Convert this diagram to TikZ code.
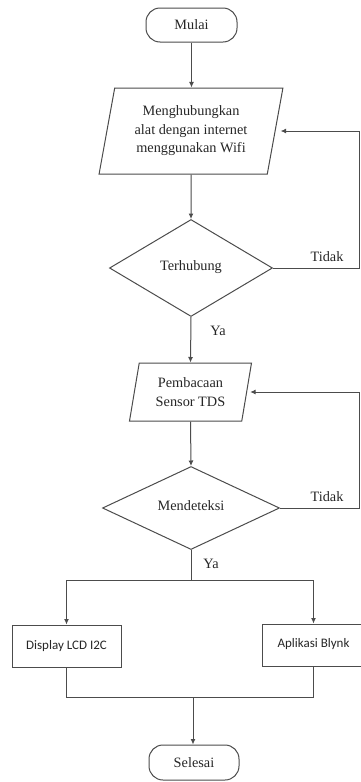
\documentclass[tikz,border=0pt]{standalone}
\usepackage{fontspec}
\setmainfont{Liberation Serif}
\newfontfamily\calib{Carlito}
\usetikzlibrary{shapes.geometric,arrows.meta}
\begin{document}
\begin{tikzpicture}[x=1pt,y=-1pt,
  line/.style={draw=black!70, line width=1pt},
  arr/.style={line, -{Latex[length=5.5pt,width=5pt]}},
  every node/.style={font=\fontsize{14.3}{18.5}\selectfont, text=black!85},
  term/.style={draw=black!70, line width=1pt, rounded corners=14pt, minimum width=91pt, minimum height=34pt, inner sep=0pt},
  io/.style={trapezium, trapezium left angle=77, trapezium right angle=103, trapezium stretches=true, draw=black!70, line width=1pt, align=center, inner sep=0pt},
  dec/.style={diamond, draw=black!70, line width=1pt, inner sep=0pt},
  proc/.style={rectangle, draw=black!70, line width=1pt, font=\calib\fontsize{13}{15}\selectfont, inner sep=0pt},
  lbl/.style={inner sep=0pt}]
\useasboundingbox (0,0) rectangle (360,782);
\fill[white] (0,0) rectangle (360,782);

\node[term] (start) at (191.5,25) {Mulai};
\node[io, minimum width=184pt, minimum height=86pt] (conn) at (191,131) {Menghubungkan\\alat dengan internet\\menggunakan Wifi};
\node[dec, minimum width=163pt, minimum height=97pt] (d1) at (191,268) {\raisebox{4pt}{Terhubung}};
\node[io, minimum width=123pt, minimum height=58pt] (read) at (190.5,392) {Pembacaan\\Sensor TDS};
\node[dec, minimum width=177pt, minimum height=83pt] (d2) at (191,508) {\raisebox{4pt}{Mendeteksi}};
\node[proc, minimum width=109pt, minimum height=42pt] (lcd) at (66.5,646) {\raisebox{3pt}{Display LCD I2C}};
\node[proc, minimum width=103pt, minimum height=42pt] (blynk) at (313.5,645) {\raisebox{4pt}{Aplikasi Blynk}};
\node[term, minimum width=90pt, minimum height=35pt] (end) at (194,762.5) {Selesai};

\coordinate (rx) at (359.5,0);
\coordinate (split) at (191,580);
\coordinate (join) at (193,697);

\node[lbl] (t1) at (327,257) {Tidak};
\node[lbl] (y1) at (218,331) {Ya};
\node[lbl] (t2) at (327,497) {Tidak};
\node[lbl] (y2) at (211,564) {Ya};

\draw[arr] (start) -- (start |- conn.north);
\draw[arr] (conn.south) -- (d1.north);
\draw[arr] (d1.south) -- (read.north);
\draw[arr] (read.south) -- (d2.north);
\draw[line] (d2.south) -- (split);
\draw[arr] (split) -| (lcd.north);
\draw[arr] (split) -| (blynk.north);
\draw[line] (lcd.south) |- (join);
\draw[line] (blynk.south) |- (join);
\draw[arr] (join) -- (join |- end.north);
\draw[arr, shorten >=5pt] (d1.east) -- (d1.east -| rx) |- (conn.east);
\draw[arr, shorten >=3pt] (d2.east) -- (d2.east -| rx) |- (read.east);
\end{tikzpicture}
\end{document}
